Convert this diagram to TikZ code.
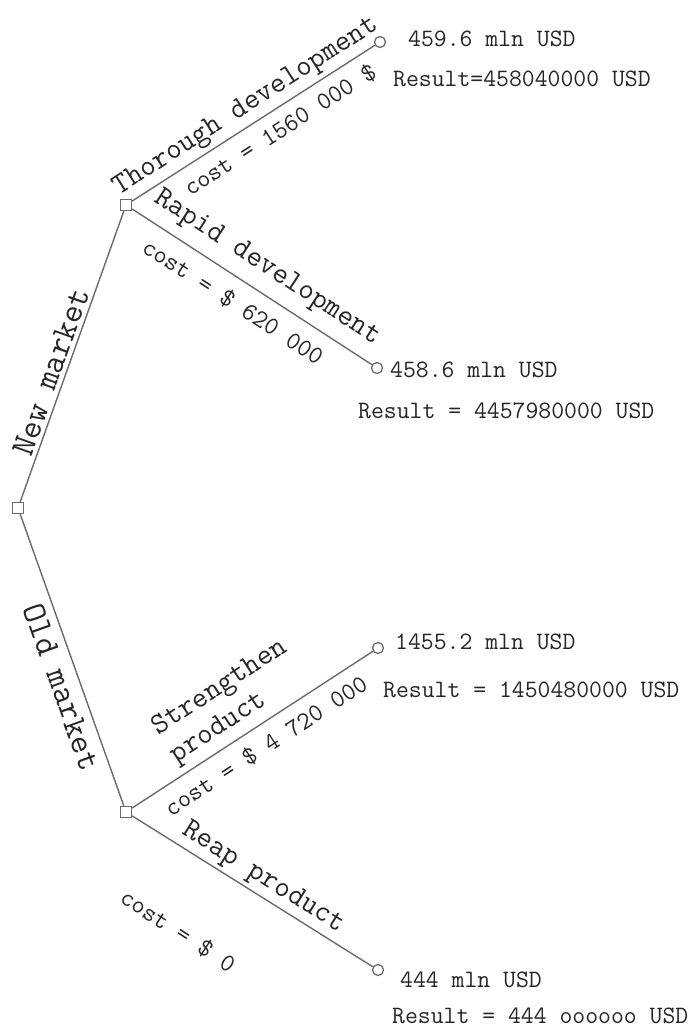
\documentclass[tikz,border=0pt]{standalone}
\usepackage{fontspec}
\begin{document}
\begin{tikzpicture}[x=1pt,y=-1pt,
  branch/.style={draw=black!58, line width=1.4pt},
  decision/.style={draw=black!58, line width=1.3pt, fill=white, rectangle,
    minimum size=11pt, inner sep=0pt},
  outcome/.style={draw=black!58, line width=1.3pt, fill=white, circle,
    minimum size=11pt, inner sep=0pt},
  rootlbl/.style={font=\fontsize{34}{36}\selectfont\ttfamily, text=black!85, inner sep=0pt},
  optlbl/.style={font=\fontsize{30}{33}\selectfont\ttfamily, text=black!85, inner sep=0pt},
  costlbl/.style={font=\fontsize{25.5}{28}\selectfont\ttfamily, text=black!85, inner sep=0pt},
  vallbl/.style={font=\fontsize{25}{28}\selectfont\ttfamily, text=black!85, inner sep=0pt, anchor=base west}
]
\useasboundingbox[fill=white] (0,0) rectangle (698,1030);

% decision and outcome nodes
\node[decision] (root) at (18,508) {};
\node[decision] (newm) at (126,205) {};
\node[decision] (oldm) at (126,812) {};
\node[outcome] (thor) at (380,42) {};
\node[outcome] (rapid) at (377,368) {};
\node[outcome] (stren) at (378,648) {};
\node[outcome] (reap) at (378,970) {};

% branches
\draw[branch] (root) -- (newm);
\draw[branch] (root) -- (oldm);
\draw[branch] (newm) -- (thor);
\draw[branch] (newm) -- (rapid);
\draw[branch] (oldm) -- (stren);
\draw[branch] (oldm) -- (reap);

% branch labels
\node[rootlbl, rotate=70.4] (lnew) at (51,372) {New market};
\node[rootlbl, rotate=-70.4] (lold) at (62,687) {Old market};
\node[optlbl, rotate=32.7] (lthor) at (246,107) {Thorough development};
\node[costlbl, rotate=32.7] (cthor) at (280,130) {cost = 1560 000 \$};
\node[optlbl, rotate=-33] (lrapid) at (267,268) {Rapid development};
\node[costlbl, rotate=-33] (crapid) at (233,302) {cost = \$ 620 000};
\node[optlbl, rotate=33.1, align=left] (lstren) at (229,702) {Strengthen\\product};
\node[costlbl, rotate=33.1] (cstren) at (266,746) {cost = \$ 4 720 000};
\node[optlbl, rotate=-32.1] (lreap) at (263,878) {Reap product};
\node[costlbl, rotate=-33] (creap) at (178,931) {cost = \$ 0};

% outcome values
\node[vallbl] (v1) at (408,47) {459.6 mln USD};
\node[vallbl] (r1) at (393,87) {Result=458040000 USD};
\node[vallbl] (v2) at (390,377) {458.6 mln USD};
\node[vallbl] (r2) at (358,418) {Result = 4457980000 USD};
\node[vallbl] (v3) at (395,649) {1455.2 mln USD};
\node[vallbl] (r3) at (383,697) {Result = 1450480000 USD};
\node[vallbl] (v4) at (400,987) {444 mln USD};
\node[vallbl] (r4) at (392,1023) {Result = 444 oooooo USD};
\end{tikzpicture}
\end{document}
